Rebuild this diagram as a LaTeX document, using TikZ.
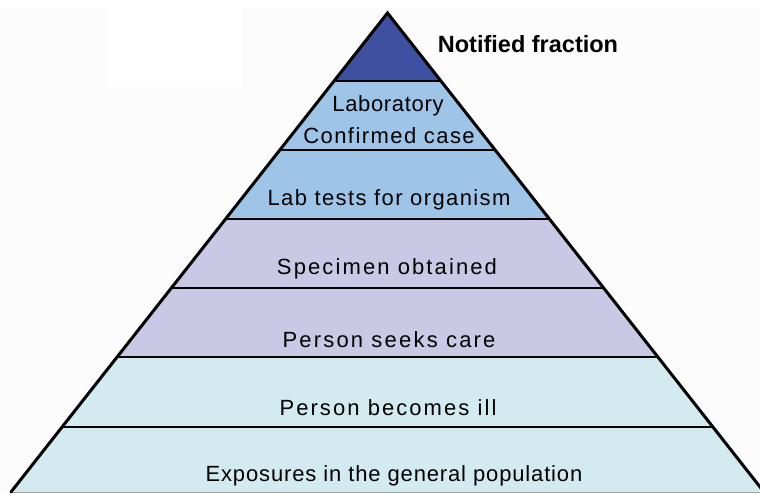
\documentclass[tikz,border=0pt]{standalone}
\usepackage{fontspec}
\setmainfont{Liberation Sans}
\definecolor{pagebg}{RGB}{252,252,252}
\definecolor{tipblue}{RGB}{64,80,160}
\definecolor{labblue}{RGB}{158,196,232}
\definecolor{lavender}{RGB}{201,201,230}
\definecolor{paleaqua}{RGB}{210,234,240}
\tikzset{
  divider/.style={line width=2.6pt, line cap=butt},
  outline/.style={line width=3pt, line cap=round},
  tierlabel/.style={inner sep=0pt, font=\addfontfeatures{LetterSpace=#1}\fontsize{22}{26}\selectfont},
  tierlabel/.default=6,
  headlabel/.style={inner sep=0pt, font=\bfseries\fontsize{23.5}{28}\selectfont}
}
\begin{document}
\begin{tikzpicture}[x=1pt,y=-1pt]
  \useasboundingbox (0,0) rectangle (760,494);
  \clip (0,0) rectangle (760,494);
  % page background with a faint white panel
  \fill[pagebg] (0,8) rectangle (760,494);
  \fill[white, rounded corners=2pt] (108,8) rectangle (241,87);

  % corner points of every tier boundary
  \coordinate (apex) at (387.5,13);
  \coordinate (l1) at (334.1,81);  \coordinate (r1) at (440.9,81);
  \coordinate (l2) at (279.8,150); \coordinate (r2) at (495.2,150);
  \coordinate (l3) at (225.6,219); \coordinate (r3) at (549.4,219);
  \coordinate (l4) at (171.3,288); \coordinate (r4) at (603.7,288);
  \coordinate (l5) at (117.1,357); \coordinate (r5) at (657.9,357);
  \coordinate (l6) at (62.1,427);  \coordinate (r6) at (712.9,427);
  \coordinate (l7) at (11,492);    \coordinate (r7) at (764,492);

  % tiers, top to bottom
  \fill[tipblue]  (apex) -- (r1) -- (l1) -- cycle;
  \fill[labblue]  (l1) -- (r1) -- (r2) -- (l2) -- cycle;
  \fill[labblue]  (l2) -- (r2) -- (r3) -- (l3) -- cycle;
  \fill[lavender] (l3) -- (r3) -- (r4) -- (l4) -- cycle;
  \fill[lavender] (l4) -- (r4) -- (r5) -- (l5) -- cycle;
  \fill[paleaqua] (l5) -- (r5) -- (r6) -- (l6) -- cycle;
  \fill[paleaqua] (l6) -- (r6) -- (r7) -- (l7) -- cycle;

  % tier dividers
  \foreach \i in {1,...,6} \draw[divider] (l\i) -- (r\i);
  \draw[gray!70, line width=0.8pt] (l7) -- (r7);

  % slanted sides
  \draw[outline] (l7) -- (apex) -- (r7);

  % labels
  \node[headlabel] (notified) at (528,44) {Notified fraction};
  \node[tierlabel=3] (labconf1) at (388,106) {Laboratory};
  \node[tierlabel=6.6] (labconf2) at (389,136) {Confirmed case};
  \node[tierlabel=6.4] (labtests) at (389,200) {Lab tests for organism};
  \node[tierlabel=9.6] (specimen) at (387,269) {Specimen obtained};
  \node[tierlabel=10] (seekcare) at (389,340) {Person seeks care};
  \node[tierlabel=9.4] (ill) at (388,408) {Person becomes ill};
  \node[tierlabel=3.9] (exposure) at (394,476) {Exposures in the general population};
\end{tikzpicture}
\end{document}
